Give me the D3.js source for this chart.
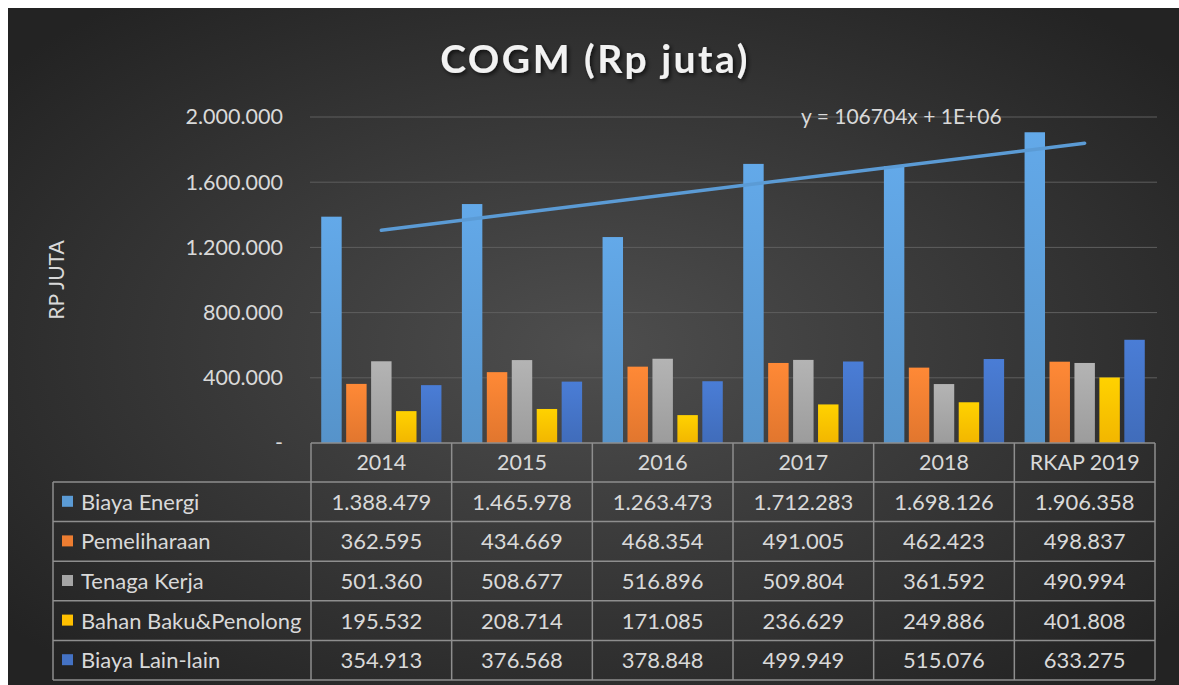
<!DOCTYPE html>
<html>
<head>
<meta charset="utf-8">
<script src="https://cdn.jsdelivr.net/npm/d3@7"></script>
<style>
  body { margin: 0; background: #ffffff; }
  svg { display: block; font-family: Lato, "Open Sans", sans-serif; }
</style>
</head>
<body>
<div id="chart"></div>
<script>
// Chart data
const years = ["2014", "2015", "2016", "2017", "2018", "RKAP 2019"];
const seriesNames = ["Biaya Energi", "Pemeliharaan", "Tenaga Kerja", "Bahan Baku&Penolong", "Biaya Lain-lain"];
const biayaEnergi = [1388479, 1465978, 1263473, 1712283, 1698126, 1906358];
const pemeliharaan = [362595, 434669, 468354, 491005, 462423, 498837];
const tenagaKerja = [501360, 508677, 516896, 509804, 361592, 490994];
const bahanBaku = [195532, 208714, 171085, 236629, 249886, 401808];
const biayaLain = [354913, 376568, 378848, 499949, 515076, 633275];
const yTicks = [0, 400000, 800000, 1200000, 1600000, 2000000];
const trendLabel = "y = 106704x + 1E+06";

const seriesValues = [biayaEnergi, pemeliharaan, tenagaKerja, bahanBaku, biayaLain];
const seriesColors = ["#5b9bd5", "#ed7d31", "#a5a5a5", "#ffc000", "#4472c4"];

(function () {
    const W = 1179, H = 685;
    const plot = { left: 311, right: 1155, top: 117, bottom: 443 };
    const tableLeft = 53, tableBottom = 680, headerBottom = 482;
    const lineColor = "#8e8e8e";
    const textColor = "#d9d9d9";

    // Indonesian number format: dots for thousands
    const locale = d3.formatLocale({ decimal: ",", thousands: ".", grouping: [3], currency: ["Rp", ""] });
    const fmt = locale.format(",d");

    const svg = d3.select("#chart").append("svg")
        .attr("width", W).attr("height", H);

    const defs = svg.append("defs");

    // Background radial gradient
    const bg = defs.append("radialGradient").attr("id", "bg")
        .attr("cx", "50%").attr("cy", "50%").attr("r", "65%");
    bg.append("stop").attr("offset", "0%").attr("stop-color", "#4e4e4e");
    bg.append("stop").attr("offset", "100%").attr("stop-color", "#232323");

    // Bar gradients
    seriesColors.forEach(function (c, i) {
        const g = defs.append("linearGradient").attr("id", "bar" + i)
            .attr("x1", 0).attr("y1", 0).attr("x2", 0).attr("y2", 1);
        g.append("stop").attr("offset", "0%").attr("stop-color", d3.color(c).brighter(0.25));
        g.append("stop").attr("offset", "100%").attr("stop-color", d3.color(c).darker(0.15));
    });

    const shadow = defs.append("filter").attr("id", "shadow")
        .attr("x", "-10%").attr("y", "-20%").attr("width", "120%").attr("height", "150%");
    shadow.append("feDropShadow").attr("dx", 2).attr("dy", 2)
        .attr("stdDeviation", 2).attr("flood-color", "#000").attr("flood-opacity", 0.7);

    svg.append("rect").attr("x", 8).attr("y", 8)
        .attr("width", W - 8).attr("height", H - 8).attr("fill", "url(#bg)");

    // Title
    svg.append("text")
        .attr("x", 595).attr("y", 73)
        .attr("text-anchor", "middle")
        .attr("fill", "#f2f2f2")
        .attr("font-size", 39).attr("font-weight", "bold")
        .attr("letter-spacing", 2.5)
        .attr("filter", "url(#shadow)")
        .text("COGM (Rp juta)");

    // Scales
    const x = d3.scaleBand().domain(years).range([plot.left, plot.right]);
    const xs = d3.scaleBand().domain(d3.range(seriesNames.length))
        .range([0, x.bandwidth()]).paddingInner(0.18).paddingOuter(0.41);
    const y = d3.scaleLinear().domain([0, 2000000]).range([plot.bottom, plot.top]);

    // Gridlines
    svg.append("g").selectAll("line").data(yTicks.slice(1)).join("line")
        .attr("x1", plot.left - 1).attr("x2", plot.right + 2)
        .attr("y1", d => y(d)).attr("y2", d => y(d))
        .attr("stroke", "#5e5e5e").attr("stroke-width", 1);

    // Y axis labels
    const yAxis = svg.append("g")
        .attr("transform", `translate(${plot.left - 25},0)`)
        .call(d3.axisLeft(y).tickValues(yTicks).tickSize(0)
            .tickFormat(d => d === 0 ? "-" : fmt(d)));
    yAxis.select(".domain").remove();
    yAxis.selectAll("text")
        .attr("fill", textColor).attr("font-size", 21.5)
        .attr("font-family", "Lato, sans-serif");

    // Y axis title
    svg.append("text")
        .attr("transform", "translate(64,280) rotate(-90)")
        .attr("text-anchor", "middle")
        .attr("fill", textColor).attr("font-size", 21)
        .text("RP JUTA");

    // Bars
    const groups = svg.append("g").selectAll("g").data(years).join("g")
        .attr("transform", d => `translate(${x(d)},0)`);
    groups.selectAll("rect")
        .data((yr, j) => seriesValues.map((vals, i) => ({ i: i, v: vals[j] })))
        .join("rect")
        .attr("x", d => xs(d.i))
        .attr("width", xs.bandwidth())
        .attr("y", d => y(d.v))
        .attr("height", d => y(0) - y(d.v))
        .attr("fill", d => `url(#bar${d.i})`);

    // Linear trendline for Biaya Energi (least squares on category index 1..n)
    const n = biayaEnergi.length;
    const xIdx = d3.range(1, n + 1);
    const mx = d3.mean(xIdx), my = d3.mean(biayaEnergi);
    const slope = d3.sum(xIdx, (k, i) => (k - mx) * (biayaEnergi[i] - my)) /
        d3.sum(xIdx, k => (k - mx) * (k - mx));
    const intercept = my - slope * mx;
    const trend = [1, n].map(k => ({ yr: years[k - 1], v: intercept + slope * k }));
    svg.append("path")
        .datum(trend)
        .attr("fill", "none")
        .attr("stroke", "#5b9bd5")
        .attr("stroke-width", 3.5)
        .attr("stroke-linecap", "round")
        .attr("d", d3.line()
            .x(d => x(d.yr) + x.bandwidth() / 2)
            .y(d => y(d.v)));

    svg.append("text")
        .attr("x", 801).attr("y", 124)
        .attr("fill", textColor).attr("font-size", 21)
        .text(trendLabel);

    // Data table
    const rows = d3.scaleBand().domain(seriesNames).range([headerBottom, tableBottom]);
    const table = svg.append("g")
        .attr("stroke", lineColor).attr("stroke-width", 1.5);

    // horizontal lines
    table.append("line")
        .attr("x1", plot.left).attr("x2", plot.right)
        .attr("y1", plot.bottom).attr("y2", plot.bottom);
    table.selectAll("line.h").data(seriesNames.concat(["end"])).join("line")
        .attr("class", "h")
        .attr("x1", tableLeft).attr("x2", plot.right)
        .attr("y1", d => d === "end" ? tableBottom : rows(d))
        .attr("y2", d => d === "end" ? tableBottom : rows(d));
    // vertical lines
    table.selectAll("line.v").data(years.concat(["end"])).join("line")
        .attr("class", "v")
        .attr("x1", d => d === "end" ? plot.right : x(d))
        .attr("x2", d => d === "end" ? plot.right : x(d))
        .attr("y1", plot.bottom).attr("y2", tableBottom);
    table.append("line")
        .attr("x1", tableLeft).attr("x2", tableLeft)
        .attr("y1", headerBottom).attr("y2", tableBottom);

    // header labels
    svg.append("g").selectAll("text").data(years).join("text")
        .attr("x", d => x(d) + x.bandwidth() / 2)
        .attr("y", (plot.bottom + headerBottom) / 2)
        .attr("dy", "0.36em")
        .attr("text-anchor", "middle")
        .attr("fill", textColor).attr("font-size", 21.5)
        .text(d => d);

    // row labels with legend keys
    const rowG = svg.append("g").selectAll("g").data(seriesNames).join("g")
        .attr("transform", d => `translate(0,${rows(d) + rows.bandwidth() / 2})`);
    rowG.append("rect")
        .attr("x", 62).attr("y", -6).attr("width", 11).attr("height", 11)
        .attr("fill", (d, i) => seriesColors[i]);
    rowG.append("text")
        .attr("x", 81).attr("dy", "0.36em")
        .attr("fill", textColor).attr("font-size", 22)
        .text(d => d);
    rowG.selectAll("text.val")
        .data((d, i) => seriesValues[i].map((v, j) => ({ v: v, yr: years[j] })))
        .join("text")
        .attr("class", "val")
        .attr("x", d => x(d.yr) + x.bandwidth() / 2)
        .attr("dy", "0.36em")
        .attr("text-anchor", "middle")
        .attr("fill", textColor).attr("font-size", 22)
        .text(d => fmt(d.v));
})();
</script>
</body>
</html>
